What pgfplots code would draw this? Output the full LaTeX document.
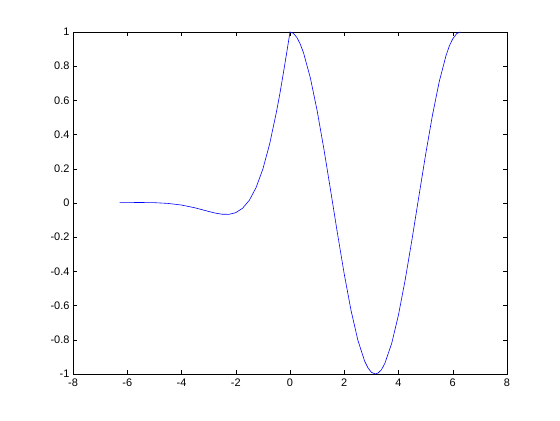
\documentclass[border=0pt]{standalone}
\usepackage{fontspec}
\setmainfont{Liberation Sans}
\usepackage{pgfplots}
\pgfplotsset{compat=1.18}
\begin{document}
\begin{tikzpicture}
\begin{axis}[
  scale only axis,
  width=434bp, height=342bp,
  xmin=-8, xmax=8, ymin=-1, ymax=1,
  xtick={-8,-6,...,8},
  ytick={-1,-0.8,...,1.01},
  tick align=inside,
  tick pos=both,
  major tick length=4bp,
  axis line style={line width=0.5pt},
  tick style={line width=0.5pt, black},
  ticklabel style={font=\fontsize{11}{13}\selectfont},
  /pgf/number format/assume math mode=true,
  yticklabel style={/pgf/number format/fixed},
  xticklabel style={yshift=-1bp},
]
\addplot[blue, line width=0.6pt] coordinates {
(-6.2832,0.00187) (-6,0.00238) (-5.5,0.00290) (-5,0.00191) (-4.5,-0.00234)
(-4,-0.01197) (-3.5,-0.02828) (-3,-0.04929) (-2.75,-0.05909) (-2.5,-0.06576)
(-2.25,-0.06621) (-2,-0.05632) (-1.75,-0.03098) (-1.5,0.01578) (-1.25,0.09034)
(-1,0.19877) (-0.75,0.34563) (-0.5,0.53228) (-0.375,0.63799) (-0.25,0.75459) (-0.125,0.87561) (0,1)
(0.125,0.99220) (0.25,0.96891) (0.375,0.93051) (0.5,0.87758) (0.75,0.73169) (1,0.54030) (1.25,0.31532)
(1.5,0.07074) (1.75,-0.17825) (2,-0.41615) (2.25,-0.62817) (2.5,-0.80114)
(2.75,-0.92430) (2.875,-0.96424) (3,-0.98999) (3.1416,-1) (3.25,-0.99413) (3.375,-0.97438) (3.5,-0.93646)
(3.75,-0.82056) (4,-0.65364) (4.25,-0.44625) (4.5,-0.21080) (4.75,0.03760)
(5,0.28366) (5.25,0.51208) (5.5,0.70867) (5.75,0.86119) (5.875,0.91904) (6,0.96017) (6.15,0.99119) (6.2832,1)
};
\end{axis}
\pgfresetboundingbox
\path ([shift={(-73bp,-46bp)}]current axis.south west) rectangle ([shift={(53bp,32bp)}]current axis.north east);
\end{tikzpicture}
\end{document}
